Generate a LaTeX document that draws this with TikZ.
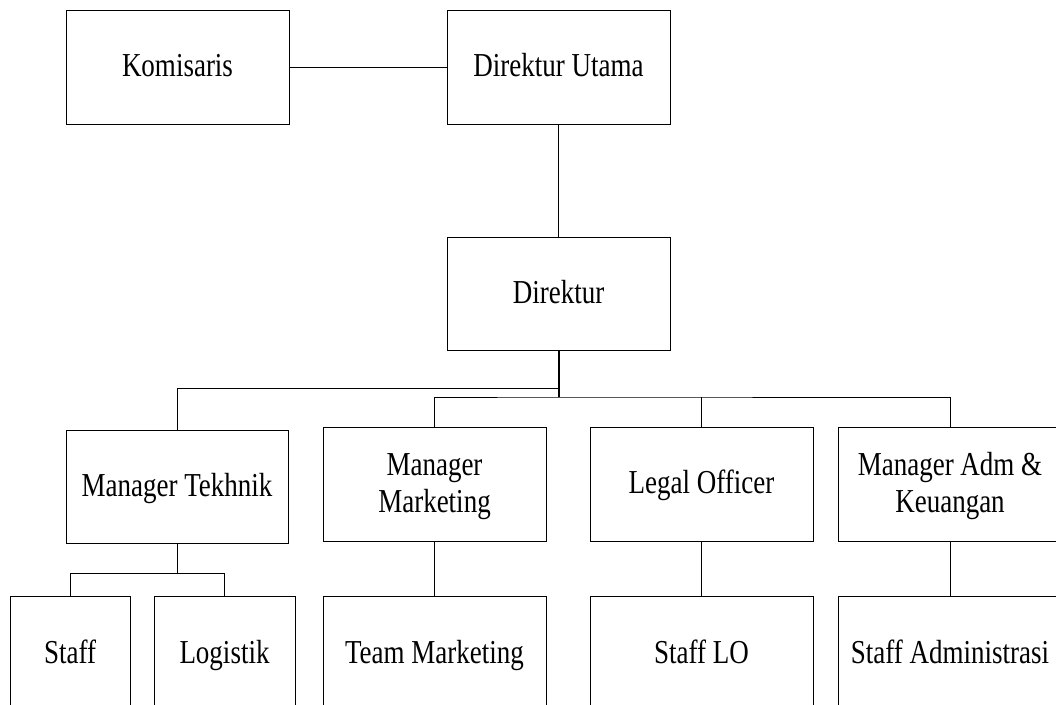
\documentclass[tikz,border=0pt]{standalone}
\usepackage{fontspec}
\setmainfont{Liberation Serif}
\newcommand{\lbl}[1]{\raisebox{-2.5pt}[\height][\depth]{\scalebox{1}[1.24]{\begin{tabular}{@{}c@{}}#1\end{tabular}}}}
\begin{document}
\begin{tikzpicture}[x=1pt,y=-1pt,
  box/.style={draw=black,line width=1pt,inner sep=0pt,minimum width=223pt,minimum height=114pt,
    font=\fontsize{27}{30}\selectfont},
  conn/.style={draw=black,line width=1pt},
  trunk/.style={draw=black,line width=2pt}]
\path[use as bounding box] (0,0) rectangle (1056,704);
\clip (0,0) rectangle (1056,704);
% top row
\node[box] (kom) at (177.5,67) {\lbl{Komisaris}};
\node[box] (du) at (558.5,67) {\lbl{Direktur Utama}};
\node[box,minimum height=113pt] (dir) at (558.5,293.5) {\lbl{Direktur}};
% managers
\node[box,minimum width=222pt,minimum height=113pt] (mt) at (177,486.5) {\lbl{Manager Tekhnik}};
\node[box] (mm) at (434.5,484) {\lbl{Manager\\Marketing}};
\node[box] (lo) at (701.5,484) {\lbl{Legal Officer}};
\node[box,minimum width=224pt] (ma) at (950,484) {\lbl{Manager Adm \&\\Keuangan}};
% staff row
\node[box,minimum width=120pt,minimum height=116pt] (st) at (70,654) {\lbl{Staff}};
\node[box,minimum width=141pt,minimum height=116pt] (lg) at (224.5,654) {\lbl{Logistik}};
\node[box,minimum height=116pt] (tm) at (434.5,654) {\lbl{Team Marketing}};
\node[box,minimum height=116pt] (sl) at (701.5,654) {\lbl{Staff LO}};
\node[box,minimum width=224pt,minimum height=116pt] (sa) at (950,654) {\lbl{Staff Administrasi}};
% junctions
\coordinate (j1) at (558.5,388);
\coordinate (j2) at (558.5,397);
\coordinate (j3) at (177,573);
% connectors
\draw[conn] (kom.east) -- (du.west);
\draw[conn] (du.south) -- (dir.north);
\draw[trunk] (dir.south) -- (j2);
\draw[conn] (j1) -| (mt.north);
\draw[conn] (mm.north) |- (j2) -| (ma.north);
\draw[conn] (lo.north) -- (lo.north |- j2);
\draw[conn] (mt.south) -- (j3);
\draw[conn] (st.north) |- (j3) -| (lg.north);
\draw[conn] (mm.south) -- (tm.north);
\draw[conn] (lo.south) -- (sl.north);
\draw[conn] (ma.south) -- (sa.north);
\end{tikzpicture}
\end{document}
